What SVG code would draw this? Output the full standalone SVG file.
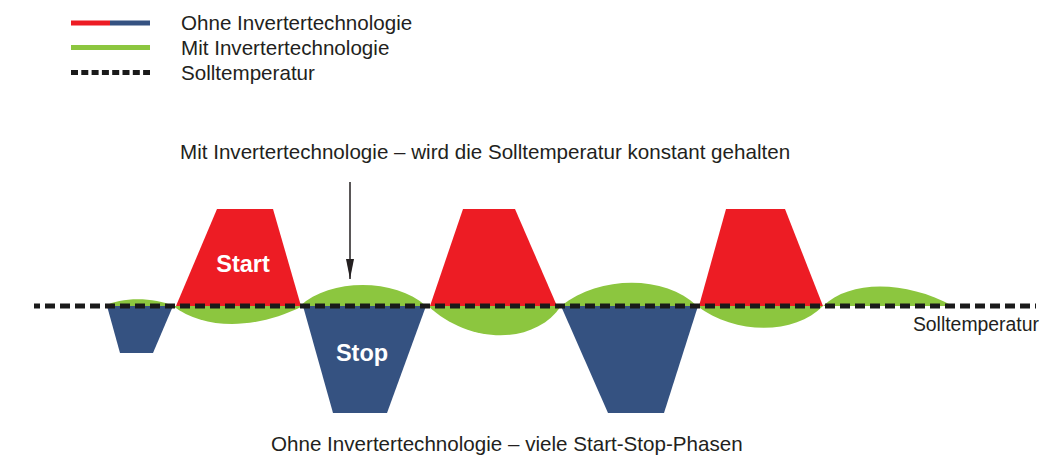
<svg xmlns="http://www.w3.org/2000/svg" width="1060" height="469" viewBox="0 0 1060 469">
<style>
text{font-family:"Liberation Sans",Arial,Helvetica,sans-serif;fill:#231f20;}
.lbl{font-size:20.6px;}
.big{font-size:23.5px;font-weight:bold;fill:#ffffff;text-anchor:middle;}
.red{fill:#ed1c24;}
.blue{fill:#355281;}
.green{fill:#8cc63f;}
.dash{stroke:#1a1a1a;stroke-width:5;fill:none;}
</style>
<defs>
<marker id="ah" viewBox="0 0 20 8" refX="20" refY="4" markerWidth="20" markerHeight="8" markerUnits="userSpaceOnUse" orient="auto">
<path d="M0,0 L20,4 L0,8 Z" fill="#231f20"/>
</marker>
</defs>
<rect width="1060" height="469" fill="#ffffff"/>
<g id="legend">
<line x1="71" y1="23" x2="110" y2="23" stroke="#ed1c24" stroke-width="5"/>
<line x1="110" y1="23" x2="150" y2="23" stroke="#355281" stroke-width="5"/>
<line x1="71" y1="47.5" x2="150" y2="47.5" stroke="#8cc63f" stroke-width="5"/>
<line x1="71" y1="72.5" x2="150" y2="72.5" stroke="#1a1a1a" stroke-width="5" stroke-dasharray="7 3.3"/>
<text class="lbl" x="181" y="30">Ohne Invertertechnologie</text>
<text class="lbl" x="181" y="55">Mit Invertertechnologie</text>
<text class="lbl" x="181" y="80">Solltemperatur</text>
</g>
<g id="inverter-curve">
<path class="green" d="M105,306 C120,297 155,297 173,306 Z"/>
<path class="green" d="M173,306 C205,330 255,330 303,306 Z"/>
<path class="green" d="M300,306 C330,278 395,278 426,306 Z"/>
<path class="green" d="M428,306 C470,345 535,345 561,306 Z"/>
<path class="green" d="M561,306 C600,275 665,275 697,306 Z"/>
<path class="green" d="M697,306 C735,335 795,335 823,306 Z"/>
<path class="green" d="M823,306 C850,280 905,280 953,306 Z"/>
</g>
<g id="start-1">
<polygon class="red" points="176,306 217,209 273,209 301,306"/>
<text class="big" x="243" y="272">Start</text>
</g>
<g id="start-2">
<polygon class="red" points="430,306 463,209 515,209 557,306"/>
</g>
<g id="start-3">
<polygon class="red" points="699,306 726,209 785,209 823,306"/>
</g>
<g id="stop-0">
<polygon class="blue" points="107,306 173,306 153,353 120,353"/>
</g>
<g id="stop-1">
<polygon class="blue" points="303,306 426,306 387,413 333,413"/>
<text class="big" x="362" y="361">Stop</text>
</g>
<g id="stop-2">
<polygon class="blue" points="561,306 698,306 664,413 608,413"/>
</g>
<g id="setpoint">
<line class="dash" x1="34" y1="306" x2="1036" y2="306" stroke-dasharray="10 5" stroke-dashoffset="4"/>
<text x="1039" y="331" text-anchor="end" style="font-size:19.4px">Solltemperatur</text>
</g>
<g id="captions">
<text class="lbl" x="180" y="159">Mit Invertertechnologie – wird die Solltemperatur konstant gehalten</text>
<text class="lbl" x="271" y="451">Ohne Invertertechnologie – viele Start-Stop-Phasen</text>
</g>
<g id="connectors">
<line x1="350" y1="182" x2="350" y2="279" stroke="#231f20" stroke-width="1.5" marker-end="url(#ah)"/>
</g>
</svg>
